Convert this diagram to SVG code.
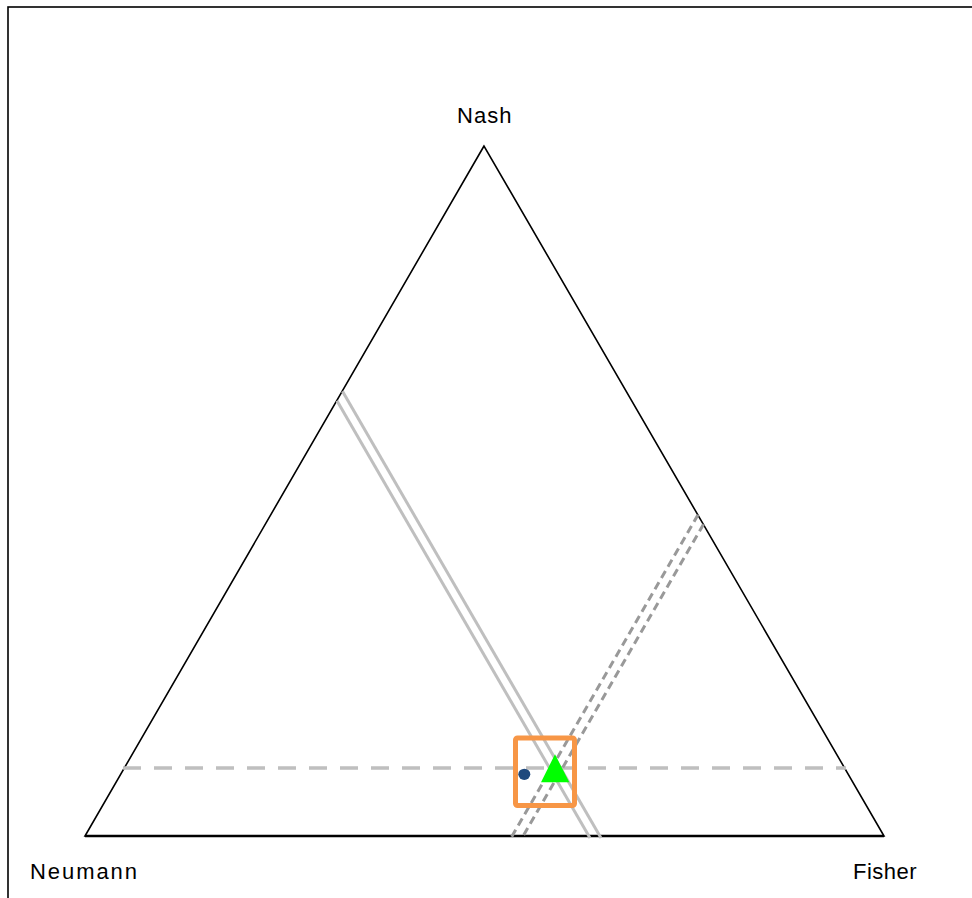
<svg xmlns="http://www.w3.org/2000/svg" width="972" height="898" viewBox="0 0 972 898">
<style>
.lbl{font-family:"Liberation Sans",Arial,sans-serif;font-size:22px;fill:#000}
.solid{stroke:#BFBFBF;stroke-width:3;fill:none}
.dash2{stroke:#999999;stroke-width:3;fill:none;stroke-dasharray:8 5}
</style>
<rect x="8" y="7" width="980" height="910" fill="#fff" stroke="#000" stroke-width="1.6"/>
<g id="triangle">
<polygon points="484,146 85,836 884,836" fill="none" stroke="#000" stroke-width="1.6"/>
<line x1="85" y1="836" x2="884" y2="836" stroke="#000" stroke-width="2.6"/>
</g>
<g id="connectors">
<line x1="123" y1="768" x2="846" y2="768" stroke="#BFBFBF" stroke-width="3.5" stroke-dasharray="18 13"/>
<line class="solid" x1="337" y1="400.8" x2="590" y2="838"/>
<line class="solid" x1="342.5" y1="391.3" x2="601" y2="838"/>
<line class="dash2" x1="698" y1="514.8" x2="511" y2="838"/>
<line class="dash2" x1="703.5" y1="524.3" x2="522" y2="838"/>
</g>
<g id="marker-box">
<rect x="515.5" y="738" width="59" height="67.5" rx="2" fill="none" stroke="#F79646" stroke-width="5"/>
</g>
<g id="point-blue">
<ellipse cx="524.3" cy="774.3" rx="6" ry="5.6" fill="#1F497D"/>
</g>
<g id="point-green">
<polygon points="555,754.3 541,782.3 569.3,782.3" fill="#00FF00"/>
</g>
<g id="label-nash"><text class="lbl" x="457" y="122.5" textLength="54.5" lengthAdjust="spacing">Nash</text></g>
<g id="label-neumann"><text class="lbl" x="30" y="879" textLength="107" lengthAdjust="spacing">Neumann</text></g>
<g id="label-fisher"><text class="lbl" x="853" y="879" textLength="63.5" lengthAdjust="spacing">Fisher</text></g>
</svg>
